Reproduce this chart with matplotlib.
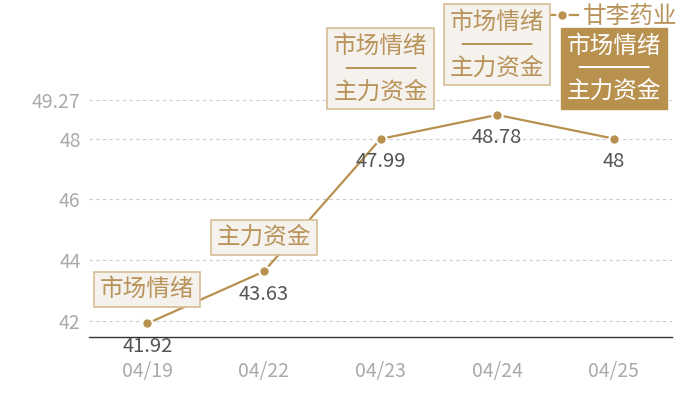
import matplotlib
matplotlib.use("Agg")
import matplotlib.pyplot as plt
from matplotlib.lines import Line2D

plt.rcParams['font.family'] = ['Noto Sans CJK SC', 'DejaVu Sans']

dates = ["04/19", "04/22", "04/23", "04/24", "04/25"]
values = [41.92, 43.63, 47.99, 48.78, 48.0]
value_labels = ["41.92", "43.63", "47.99", "48.78", "48"]
notes = ["市场情绪", "主力资金", "市场情绪\n─────\n主力资金", "市场情绪\n─────\n主力资金", "市场情绪\n─────\n主力资金"]
highlight = [False, False, False, False, True]
series_name = "甘李药业"
y_ticks = [42, 44, 46, 48, 49.27]
y_tick_labels = ["42", "44", "46", "48", "49.27"]
y_min, y_max = 41.475, 49.27

GOLD = "#b8914f"
TEXT_GOLD = "#b8935a"
BOX_BG = "#f5f1ec"
BOX_EDGE = "#d6bd96"

fig = plt.figure(figsize=(7, 4), dpi=100)
ax = fig.add_axes([89/700, 63/400, 583/700, 237/400])

x = list(range(len(dates)))
ax.plot(x, values, color=GOLD, lw=1.6, marker='o', ms=7.5,
        mfc=GOLD, mec='white', mew=1.5, zorder=3, label=series_name)

ax.set_xlim(-0.5, len(dates) - 0.5)
ax.set_ylim(y_min, y_max)
ax.set_xticks(x)
ax.set_xticklabels(dates)
ax.set_yticks(y_ticks)
ax.set_yticklabels(y_tick_labels)
ax.tick_params(axis='both', length=0, labelsize=14, labelcolor="#aaaaaa")
ax.tick_params(axis='x', pad=17)
ax.tick_params(axis='y', pad=6)
ax.grid(axis='y', color="#cccccc", ls=(0, (3, 3)), lw=0.8)
for s in ["top", "right", "left"]:
    ax.spines[s].set_visible(False)
ax.spines["bottom"].set_color("#333333")
ax.spines["bottom"].set_linewidth(1.0)

for xi, v, lab in zip(x, values, value_labels):
    ax.annotate(lab, (xi, v), xytext=(0, -16.5), textcoords='offset points',
                ha='center', va='center', fontsize=14.5, color="#555555",
                zorder=4, annotation_clip=False)

for xi, v, note, hl in zip(x, values, notes, highlight):
    multi = "\n" in note
    dy = 50.5 if multi else 24.5
    if hl:
        bbox = dict(boxstyle='square,pad=0.25', fc=GOLD, ec=GOLD, lw=1)
        col = "white"
    else:
        bbox = dict(boxstyle='square,pad=0.25', fc=BOX_BG, ec=BOX_EDGE, lw=1.2)
        col = TEXT_GOLD
    fam = ['DejaVu Sans', 'Noto Sans CJK SC'] if multi else ['Noto Sans CJK SC', 'DejaVu Sans']
    ax.annotate(note, (xi, v), xytext=(0, dy), textcoords='offset points',
                ha='center', va='center', fontsize=17, color=col, family=fam,
                linespacing=0.92, bbox=bbox, zorder=7, annotation_clip=False,
                multialignment='center')

handle = Line2D([], [], color=GOLD, lw=1.6, marker='o', ms=7.5,
                mfc=GOLD, mec='white', mew=1.5)
leg = ax.legend([handle], [series_name], loc='upper right',
                bbox_to_anchor=(677/700, 1 - 5/400), bbox_transform=fig.transFigure,
                frameon=False, fontsize=17, handlelength=1.3, handletextpad=0.2,
                borderpad=0, borderaxespad=0)
for t in leg.get_texts():
    t.set_color(TEXT_GOLD)
leg.set_zorder(5)

fig.savefig("out.png", dpi=100)
